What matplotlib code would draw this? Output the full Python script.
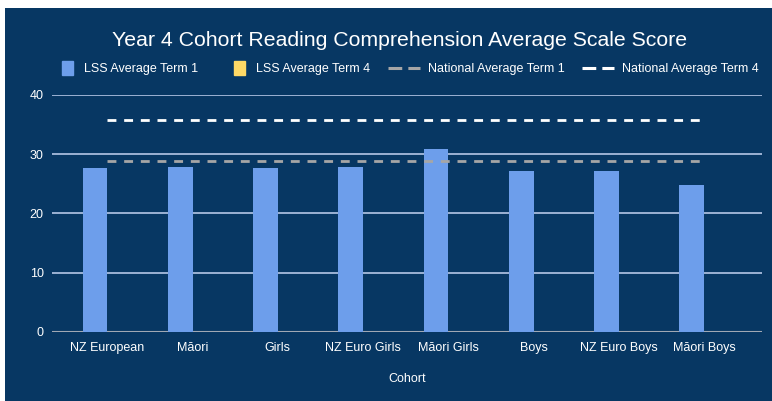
import numpy as np
import matplotlib
matplotlib.use('Agg')
import matplotlib.pyplot as plt
from matplotlib.patches import Rectangle, Patch
from matplotlib.lines import Line2D
from matplotlib.legend_handler import HandlerPatch

# data
cohorts = ['NZ European', 'Māori', 'Girls', 'NZ Euro Girls', 'Māori Girls',
           'Boys', 'NZ Euro Boys', 'Māori Boys']
lss_term1 = [27.7, 27.9, 27.6, 27.9, 30.9, 27.2, 27.2, 24.8]
lss_term4 = [None] * 8          # no values entered yet
national_term1 = [28.9] * 8
national_term4 = [35.8] * 8

bg = '#073763'
bar_blue = '#6d9eeb'
yellow = '#ffd966'
plt.rcParams['font.family'] = ['Liberation Sans', 'DejaVu Sans']

fig = plt.figure(figsize=(7.72, 4.01), dpi=100, facecolor='white')
# dark chart area with small white border at top/left
fig.patches.append(Rectangle((5 / 772, 0), 1, 1 - 8 / 401, transform=fig.transFigure,
                             facecolor=bg, edgecolor='none', zorder=-10))

ax = fig.add_axes([52 / 772, 1 - 332 / 401, 710 / 772, 237 / 401])
ax.set_facecolor(bg)

x = np.arange(len(cohorts))
w = 0.29
t4 = np.array([np.nan if v is None else v for v in lss_term4], dtype=float)
ax.bar(x - w / 2, lss_term1, w, color=bar_blue, zorder=3)
ax.bar(x + w / 2, t4, w, color=yellow, zorder=3)
ax.plot(x, national_term1, color='#a6a6a6', lw=2, ls=(0, (3.2, 2.8)), zorder=4)
ax.plot(x, national_term4, color='white', lw=2, ls=(0, (3.2, 2.8)), zorder=4)

ax.set_xlim(-0.65, 7.68)
ax.set_ylim(0, 40)
ax.set_yticks([0, 10, 20, 30, 40])
ax.yaxis.grid(True, color='#b4c7e7', lw=1.2, zorder=1)
ax.axhline(0, color='#a0a8b4', lw=1.5, zorder=2)
for s in ax.spines.values():
    s.set_visible(False)
ax.set_xticks(x)
ax.set_xticklabels(cohorts)
ax.tick_params(length=0, colors='white', labelsize=9)
ax.tick_params(axis='x', pad=7)
ax.tick_params(axis='y', pad=6)
ax.set_xlabel('Cohort', color='white', fontsize=9, labelpad=14)

fig.text(0.518, 1 - 40 / 401, 'Year 4 Cohort Reading Comprehension Average Scale Score',
         color='white', fontsize=15.3, ha='center', va='center')


def square(legend, orig_handle, xdescent, ydescent, width, height, fontsize):
    side = height * 1.3
    return Rectangle((width - side - xdescent, -ydescent - height * 0.15), side * 0.75, side)


handles = [Patch(color=bar_blue), Patch(color=yellow),
           Line2D([], [], color='#a6a6a6', lw=2.2, ls=(0, (4.5, 2))),
           Line2D([], [], color='white', lw=2.2, ls=(0, (4.5, 2)))]
labels = ['LSS Average Term 1', 'LSS Average Term 4',
          'National Average Term 1', 'National Average Term 4']
leg = fig.legend(handles, labels, loc='center', bbox_to_anchor=(0.52, 1 - 69 / 401),
                 ncol=4, frameon=False, fontsize=9, labelcolor='white',
                 handlelength=2.6, handleheight=1.0, columnspacing=1.4, handletextpad=0.6,
                 handler_map={Patch: HandlerPatch(patch_func=square)})

fig.savefig('out.png', dpi=100, facecolor='white')
